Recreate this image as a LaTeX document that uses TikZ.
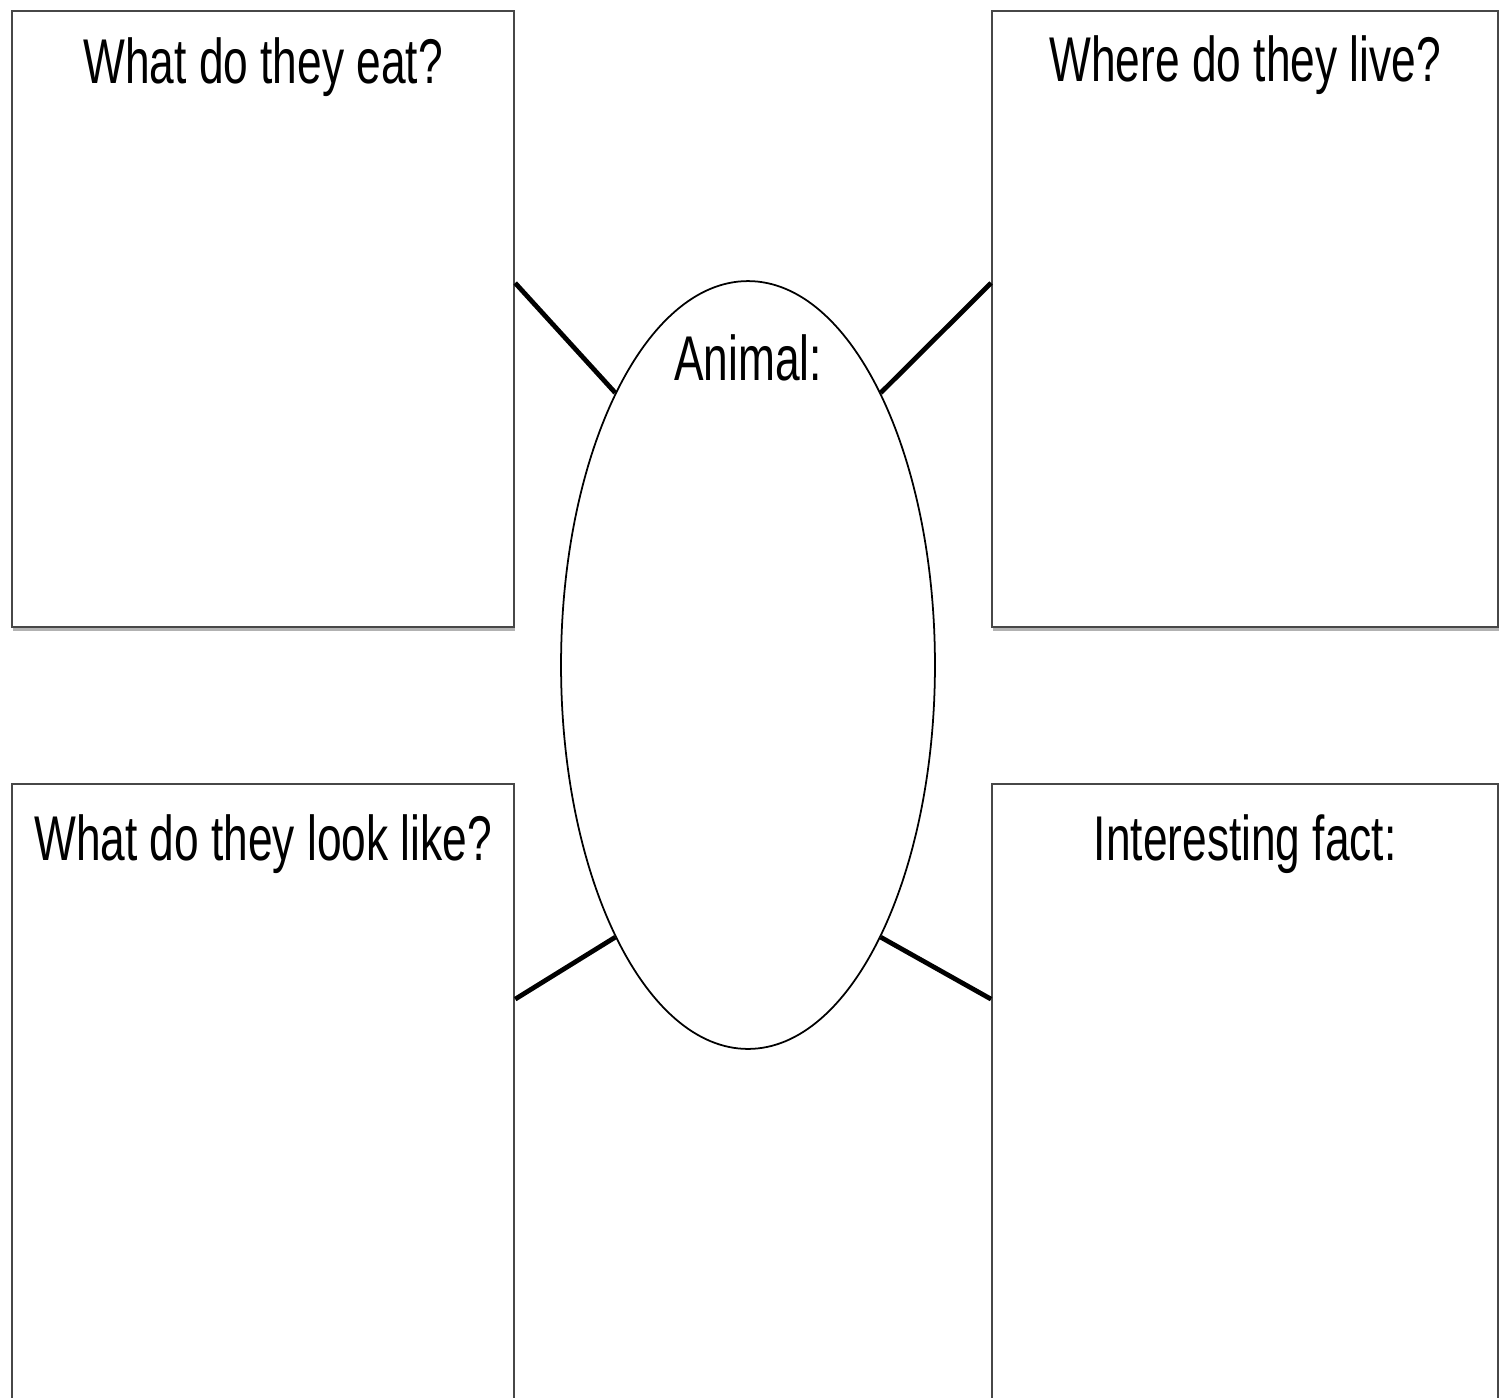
\documentclass[tikz,border=0pt]{standalone}
\usepackage{fontspec}
\setmainfont{Liberation Sans}
\usetikzlibrary{shapes.geometric,positioning,calc,shadows}

\begin{document}
\begin{tikzpicture}[
    x=0.02cm, y=-0.02cm,
    box/.style={draw=black!72, line width=1.3pt, fill=white, rectangle, inner sep=0pt,
        minimum width=10.04cm, minimum height=12.32cm,
        drop shadow={shadow xshift=0.5pt, shadow yshift=-2.2pt, fill=black!60, opacity=0.5}},
    oval/.style={draw, ellipse, line width=1pt, fill=white, inner sep=0pt,
        minimum width=7.48cm, minimum height=15.36cm},
    heading/.style={font=\fontsize{36}{40}\selectfont, anchor=base, inner sep=0pt,
        xscale=0.7, transform shape},
    link/.style={line width=2.7pt}
]
\clip (0,0) rectangle (1512,1397);
% Boxes round the oval
\node[box, anchor=north west] (eat) at (11,10) {};
\node[box, right=9.52cm of eat, minimum width=10.12cm] (live) {};
\node[box, below=3.1cm of eat, minimum height=12.8cm] (look) {};
\node[box, below=3.1cm of live, minimum width=10.12cm, minimum height=12.8cm] (fact) {};
\node[oval] (animal) at (748,665) {};

% Headings
\node[heading] (eattxt) at ($(eat.north)+(0,73)$) {What do they eat?};
\node[heading] (livetxt) at ($(live.north)+(0,71)$) {Where do they live?};
\node[heading] (looktxt) at ($(look.north)+(0,77)$) {What do they look like?};
\node[heading] (facttxt) at ($(fact.north)+(0,77)$) {Interesting fact:};
\node[heading] (animaltxt) at ($(animal.north)+(0,100)$) {Animal:};

% Lines from the boxes to the oval
\coordinate (eatend) at ($(eat.north east)+(0,273)$);
\coordinate (liveend) at ($(live.north west)+(0,273)$);
\coordinate (lookend) at ($(look.north east)+(0,216)$);
\coordinate (factend) at ($(fact.north west)+(0,216)$);
\draw[link] (eatend) -- (animal.116);
\draw[link] (liveend) -- (animal.64);
\draw[link] (lookend) -- (animal.244);
\draw[link] (factend) -- (animal.296);

\end{tikzpicture}
\end{document}
